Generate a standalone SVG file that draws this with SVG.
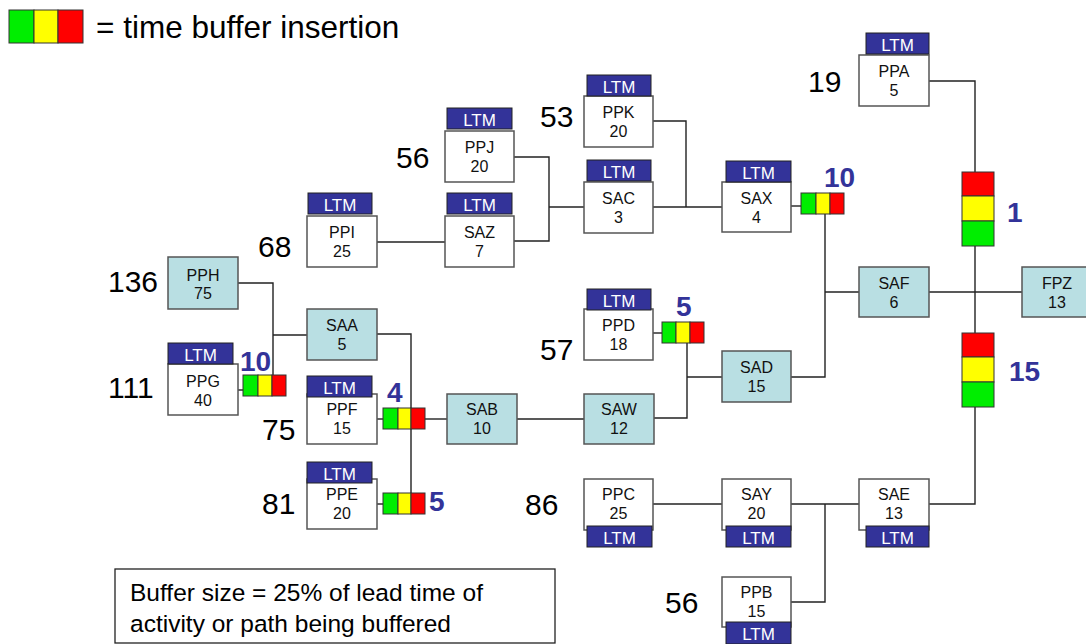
<svg xmlns="http://www.w3.org/2000/svg" width="1086" height="644" viewBox="0 0 1086 644">
<defs>
<style>
.box{stroke:#555;stroke-width:1.5}
.w{fill:#fff}
.b{fill:#b9dfe3}
.ltm{fill:#333399;stroke:#222;stroke-width:1}
.lt{font-family:"Liberation Sans",Arial,sans-serif;font-size:17px;fill:#fff;text-anchor:middle}
.nt{font-family:"Liberation Sans",Arial,sans-serif;font-size:16px;fill:#111;text-anchor:middle}
.num{font-family:"Liberation Sans",Arial,sans-serif;font-size:30px;fill:#000}
.bn{font-family:"Liberation Sans",Arial,sans-serif;font-size:28px;font-weight:bold;fill:#333399}
.con{fill:none;stroke:#222;stroke-width:1.4}
.g{fill:#00ee00;stroke:#333;stroke-width:1}
.y{fill:#ffff00;stroke:#333;stroke-width:1}
.r{fill:#ff0000;stroke:#333;stroke-width:1}
.note{font-family:"Liberation Sans",Arial,sans-serif;font-size:24.5px;fill:#000}
</style>
</defs>
<rect width="1086" height="644" fill="#fff"/>

<g id="legend">
<rect class="g" x="9" y="10" width="25" height="33"/>
<rect class="y" x="34" y="10" width="24" height="33"/>
<rect class="r" x="58" y="10" width="25" height="33"/>
<text x="96" y="38" font-family="Liberation Sans,Arial,sans-serif" font-size="31.5" fill="#000">= time buffer insertion</text>
</g>

<g id="connectors">
<path class="con" d="M238,283 H273 V375"/>
<path class="con" d="M273,335 H307"/>
<path class="con" d="M238,390 H243"/>
<path class="con" d="M377,334 H411 V493"/>
<path class="con" d="M377,419 H383"/>
<path class="con" d="M425,419 H447"/>
<path class="con" d="M377,504 H383"/>
<path class="con" d="M517,419 H584"/>
<path class="con" d="M654,418 H687 V343"/>
<path class="con" d="M687,377 H722"/>
<path class="con" d="M653,333 H662"/>
<path class="con" d="M791,377 H825 V214"/>
<path class="con" d="M825,292 H859"/>
<path class="con" d="M929,292 H1022"/>
<path class="con" d="M929,81 H975 V172"/>
<path class="con" d="M975,246 V333"/>
<path class="con" d="M975,407 V504 H929"/>
<path class="con" d="M653,207 H722"/>
<path class="con" d="M653,121 H686 V207"/>
<path class="con" d="M514,157 H549 V241 H514"/>
<path class="con" d="M549,207 H584"/>
<path class="con" d="M377,242 H445"/>
<path class="con" d="M791,206 H801"/>
<path class="con" d="M653,504 H722"/>
<path class="con" d="M791,504 H859"/>
<path class="con" d="M825,504 V602 H791"/>
</g>

<g id="buffers">
<g id="buf-ppg"><rect class="g" x="243" y="375" width="15" height="21"/><rect class="y" x="258" y="375" width="14" height="21"/><rect class="r" x="272" y="375" width="14" height="21"/></g>
<g id="buf-ppf"><rect class="g" x="383" y="408" width="15" height="21"/><rect class="y" x="398" y="408" width="13" height="21"/><rect class="r" x="411" y="408" width="14" height="21"/></g>
<g id="buf-ppe"><rect class="g" x="383" y="493" width="15" height="21"/><rect class="y" x="398" y="493" width="13" height="21"/><rect class="r" x="411" y="493" width="14" height="21"/></g>
<g id="buf-ppd"><rect class="g" x="662" y="322" width="14" height="21"/><rect class="y" x="676" y="322" width="14" height="21"/><rect class="r" x="690" y="322" width="14" height="21"/></g>
<g id="buf-sax"><rect class="g" x="801" y="193" width="15" height="21"/><rect class="y" x="816" y="193" width="14" height="21"/><rect class="r" x="830" y="193" width="14" height="21"/></g>
<g id="buf-ppa"><rect class="r" x="962" y="172" width="32" height="24"/><rect class="y" x="962" y="196" width="32" height="25"/><rect class="g" x="962" y="221" width="32" height="25"/></g>
<g id="buf-sae"><rect class="r" x="962" y="333" width="32" height="24"/><rect class="y" x="962" y="357" width="32" height="25"/><rect class="g" x="962" y="382" width="32" height="25"/></g>
<text class="bn" x="240" y="371">10</text>
<text class="bn" x="387" y="402">4</text>
<text class="bn" x="429" y="511">5</text>
<text class="bn" x="676" y="316">5</text>
<text class="bn" x="824" y="187">10</text>
<text class="bn" x="1007" y="222">1</text>
<text class="bn" x="1009" y="381">15</text>
</g>

<g id="PPA"><rect class="box w" x="859" y="55" width="70" height="51"/><rect class="ltm" x="866" y="33" width="63" height="21"/><text class="lt" x="897.5" y="51">LTM</text><text class="nt" x="894" y="77">PPA</text><text class="nt" x="894" y="96">5</text><text class="num" x="808" y="92">19</text></g>
<g id="PPK"><rect class="box w" x="584" y="96" width="69" height="51"/><rect class="ltm" x="587" y="75" width="64" height="21"/><text class="lt" x="619" y="93">LTM</text><text class="nt" x="618.5" y="118">PPK</text><text class="nt" x="618.5" y="137">20</text><text class="num" x="540" y="127">53</text></g>
<g id="PPJ"><rect class="box w" x="445" y="131" width="69" height="51"/><rect class="ltm" x="447" y="108" width="65" height="21"/><text class="lt" x="479.5" y="126">LTM</text><text class="nt" x="479.5" y="153">PPJ</text><text class="nt" x="479.5" y="172">20</text><text class="num" x="396" y="168">56</text></g>
<g id="SAC"><rect class="box w" x="584" y="182" width="69" height="51"/><rect class="ltm" x="587" y="160" width="64" height="21"/><text class="lt" x="619" y="178">LTM</text><text class="nt" x="618.5" y="204">SAC</text><text class="nt" x="618.5" y="223">3</text></g>
<g id="PPI"><rect class="box w" x="307" y="216" width="70" height="51"/><rect class="ltm" x="308" y="193" width="64" height="21"/><text class="lt" x="340" y="211">LTM</text><text class="nt" x="342" y="238">PPI</text><text class="nt" x="342" y="257">25</text><text class="num" x="258" y="257">68</text></g>
<g id="SAZ"><rect class="box w" x="445" y="216" width="69" height="51"/><rect class="ltm" x="447" y="193" width="65" height="21"/><text class="lt" x="479.5" y="211">LTM</text><text class="nt" x="479.5" y="238">SAZ</text><text class="nt" x="479.5" y="257">7</text></g>
<g id="SAX"><rect class="box w" x="722" y="182" width="69" height="50"/><rect class="ltm" x="726" y="161" width="65" height="21"/><text class="lt" x="758.5" y="179">LTM</text><text class="nt" x="756.5" y="204">SAX</text><text class="nt" x="756.5" y="223">4</text></g>
<g id="PPH"><rect class="box b" x="168" y="257" width="70" height="52"/><text class="nt" x="203" y="281">PPH</text><text class="nt" x="203" y="299">75</text><text class="num" x="108" y="292">136</text></g>
<g id="SAA"><rect class="box b" x="307" y="309" width="70" height="51"/><text class="nt" x="342" y="331">SAA</text><text class="nt" x="342" y="350">5</text></g>
<g id="PPG"><rect class="box w" x="168" y="364" width="70" height="51"/><rect class="ltm" x="168" y="343" width="65" height="21"/><text class="lt" x="200.5" y="361">LTM</text><text class="nt" x="203" y="387">PPG</text><text class="nt" x="203" y="406">40</text><text class="num" x="108" y="398">111</text></g>
<g id="PPF"><rect class="box w" x="307" y="394" width="70" height="50"/><rect class="ltm" x="307" y="376" width="65" height="21"/><text class="lt" x="339.5" y="394">LTM</text><text class="nt" x="342" y="415">PPF</text><text class="nt" x="342" y="434">15</text><text class="num" x="262" y="440">75</text></g>
<g id="PPE"><rect class="box w" x="307" y="479" width="70" height="50"/><rect class="ltm" x="307" y="462" width="65" height="21"/><text class="lt" x="339.5" y="480">LTM</text><text class="nt" x="342" y="500">PPE</text><text class="nt" x="342" y="519">20</text><text class="num" x="262" y="514">81</text></g>
<g id="SAB"><rect class="box b" x="447" y="394" width="70" height="50"/><text class="nt" x="482" y="415">SAB</text><text class="nt" x="482" y="434">10</text></g>
<g id="SAW"><rect class="box b" x="584" y="394" width="70" height="50"/><text class="nt" x="619" y="415">SAW</text><text class="nt" x="619" y="434">12</text></g>
<g id="PPD"><rect class="box w" x="584" y="309" width="69" height="51"/><rect class="ltm" x="587" y="289" width="64" height="21"/><text class="lt" x="619" y="307">LTM</text><text class="nt" x="618.5" y="331">PPD</text><text class="nt" x="618.5" y="350">18</text><text class="num" x="540" y="360">57</text></g>
<g id="SAD"><rect class="box b" x="722" y="351" width="69" height="51"/><text class="nt" x="756.5" y="373">SAD</text><text class="nt" x="756.5" y="392">15</text></g>
<g id="SAF"><rect class="box b" x="859" y="267" width="70" height="50"/><text class="nt" x="894" y="289">SAF</text><text class="nt" x="894" y="308">6</text></g>
<g id="FPZ"><rect class="box b" x="1022" y="267" width="70" height="50"/><text class="nt" x="1057" y="289">FPZ</text><text class="nt" x="1057" y="308">13</text></g>
<g id="PPC"><rect class="box w" x="584" y="479" width="69" height="51"/><rect class="ltm" x="587" y="526" width="65" height="21"/><text class="lt" x="619.5" y="544">LTM</text><text class="nt" x="618.5" y="500">PPC</text><text class="nt" x="618.5" y="519">25</text><text class="num" x="525" y="515">86</text></g>
<g id="SAY"><rect class="box w" x="722" y="479" width="69" height="51"/><rect class="ltm" x="726" y="526" width="65" height="21"/><text class="lt" x="758.5" y="544">LTM</text><text class="nt" x="756.5" y="500">SAY</text><text class="nt" x="756.5" y="519">20</text></g>
<g id="SAE"><rect class="box w" x="859" y="479" width="70" height="51"/><rect class="ltm" x="866" y="526" width="63" height="21"/><text class="lt" x="897.5" y="544">LTM</text><text class="nt" x="894" y="500">SAE</text><text class="nt" x="894" y="519">13</text></g>
<g id="PPB"><rect class="box w" x="722" y="577" width="69" height="50"/><rect class="ltm" x="726" y="622" width="65" height="22"/><text class="lt" x="758.5" y="640">LTM</text><text class="nt" x="756.5" y="598">PPB</text><text class="nt" x="756.5" y="617">15</text><text class="num" x="665" y="613">56</text></g>

<g id="note">
<rect x="115" y="569" width="440" height="74" fill="#fff" stroke="#222" stroke-width="1.3"/>
<text class="note" x="130" y="601">Buffer size = 25% of lead time of</text>
<text class="note" x="130" y="632">activity or path being buffered</text>
</g>
</svg>
